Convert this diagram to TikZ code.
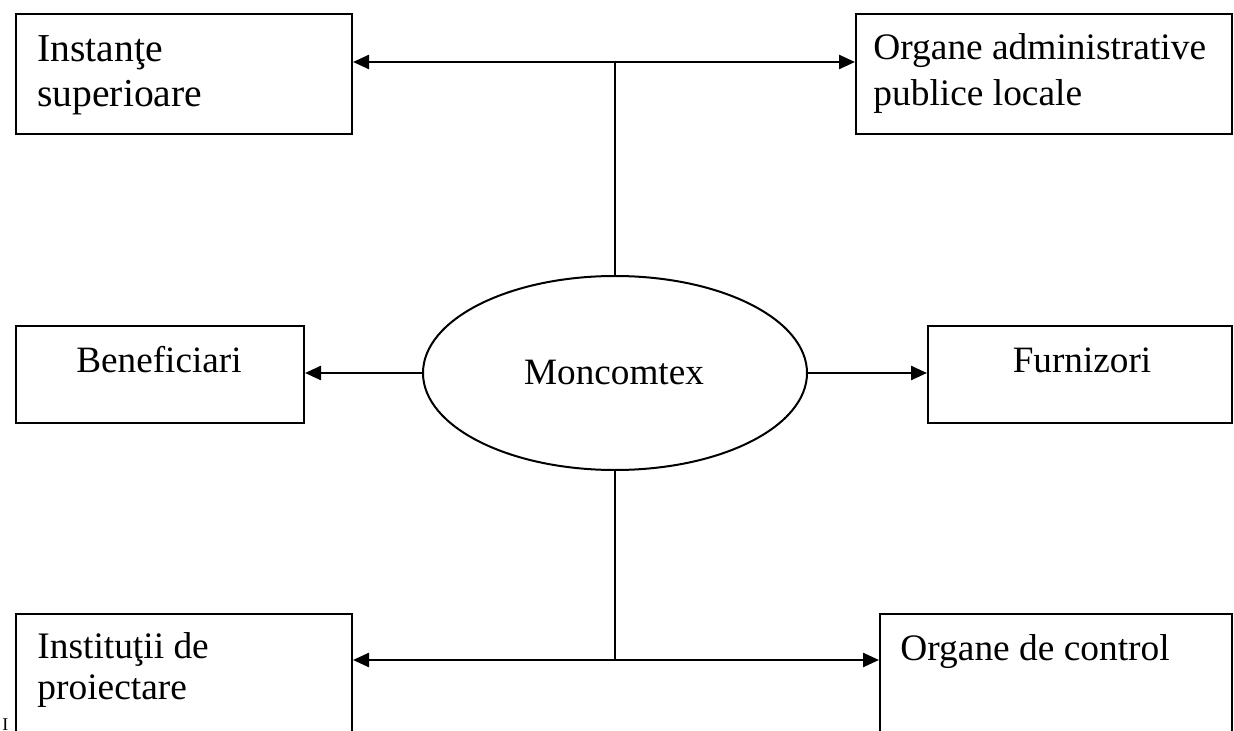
\documentclass[tikz,border=0pt]{standalone}
\usepackage{fontspec}
\setmainfont{Liberation Serif}
\usetikzlibrary{shapes.geometric,arrows.meta}
\begin{document}
\begin{tikzpicture}[x=0.5pt,y=-0.5pt,
  box/.style={draw,line width=1pt,rectangle,inner sep=0pt,anchor=north west},
  txt/.style={inner sep=0pt,anchor=base west,font=\fontsize{18.7pt}{21pt}\selectfont},
  bigtxt/.style={inner sep=0pt,anchor=base west,font=\fontsize{19.8pt}{22pt}\selectfont},
  ctxt/.style={inner sep=0pt,anchor=base,font=\fontsize{18.6pt}{21pt}\selectfont},
  link/.style={line width=1.2pt},
  arr/.style={line width=1.2pt,-{Triangle[length=8pt,width=7pt]}},
  darr/.style={line width=1.2pt,{Triangle[length=8pt,width=7pt]}-{Triangle[length=8pt,width=7pt]}}]
\useasboundingbox (0,0) rectangle (1234,731);
\clip (0,0) rectangle (1234,731);
% boxes
\node[box,minimum width=168pt,minimum height=60pt] (inst) at (15,13) {};
\node[box,minimum width=188pt,minimum height=60pt] (org) at (855,13) {};
\node[box,minimum width=144pt,minimum height=48.5pt] (ben) at (15,325) {};
\node[box,minimum width=152pt,minimum height=48.5pt] (furn) at (927,325) {};
\node[box,minimum width=168pt,minimum height=70pt] (proi) at (15,613) {};
\node[box,minimum width=176pt,minimum height=70pt] (ctrl) at (879,613) {};
% ellipse
\node[draw,line width=1pt,ellipse,inner sep=0pt,minimum width=192pt,minimum height=97pt] (mon) at (615,373) {};
% texts
\node[bigtxt] (t1a) at (37,62) {Instanţe};
\node[bigtxt] (t1b) at (37,107) {superioare};
\node[txt] (t2a) at (873,60) {Organe administrative};
\node[txt] (t2b) at (873,106) {publice locale};
\node[ctxt] (t3) at (159,372) {Beneficiari};
\node[ctxt] (t4) at (614,385) {Moncomtex};
\node[ctxt] (t5) at (1082,372) {Furnizori};
\node[txt] (t6a) at (37,658) {Instituţii de};
\node[txt] (t6b) at (37,699) {proiectare};
\node[txt] (t7) at (900,660) {Organe de control};
\node[inner sep=0pt,anchor=base west,font=\fontsize{9pt}{11pt}\selectfont] (stray) at (2,730) {I};
% connectors
\coordinate (top) at (615,62);
\coordinate (bot) at (615,660);
\draw[darr] (inst.east |- top) -- (org.west |- top);
\draw[link] (top) -- (mon.north);
\draw[darr] (proi.east |- bot) -- (ctrl.west |- bot);
\draw[link] (mon.south) -- (bot);
\draw[arr] (mon.west) -- (ben.east |- mon.west);
\draw[arr] (mon.east) -- (furn.west |- mon.east);
\end{tikzpicture}
\end{document}
